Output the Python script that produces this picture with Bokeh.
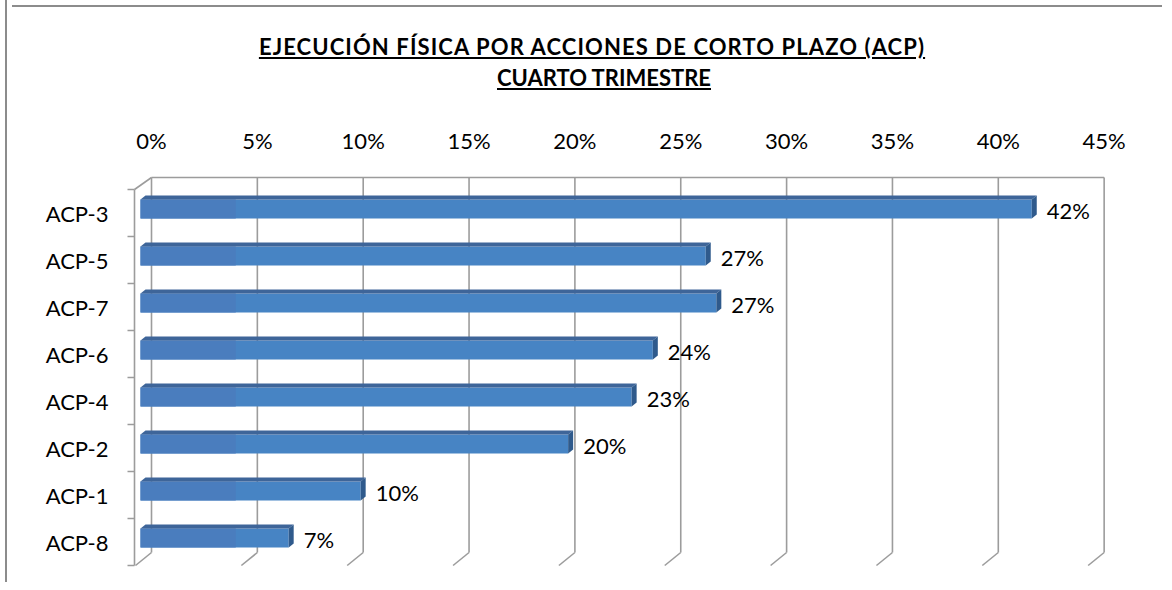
from bokeh.plotting import figure
from bokeh.models import (Range1d, LinearAxis, FixedTicker, PrintfTickFormatter, Div)
from bokeh.layouts import column
from bokeh.core.properties import value
from bokeh.embed import file_html
from bokeh.resources import INLINE

# ---------------- data ----------------
categories = ["ACP-3", "ACP-5", "ACP-7", "ACP-6", "ACP-4", "ACP-2", "ACP-1", "ACP-8"]
values = [42.1, 26.7, 27.2, 24.2, 23.2, 20.2, 10.4, 7.0]
value_labels = ["42%", "27%", "27%", "24%", "23%", "20%", "10%", "7%"]
pct_ticks = [0, 5, 10, 15, 20, 25, 30, 35, 40, 45]
title_line1 = "EJECUCIÓN FÍSICA POR ACCIONES DE CORTO PLAZO (ACP)"
title_line2 = "CUARTO TRIMESTRE"

# ---------------- layout / style constants ----------------
FONT = "Lato"
FS = "22px"
BLUE = "#4784c4"
BLUE_L = "#4a7dbe"
BLUE_TOP = "#3e6599"
BLUE_CAP = "#2f5a8c"
GRID = "#9c9c9c"
BORDER_CSS = "2px solid #8c8c8c"

TITLE_H = 90
W, H = 1150, 482
FIG_X, FIG_Y = 8, 8 + TITLE_H  # page position of the figure
FR_L, FR_T, FR_R, FR_B = 126, 170, 1112, 566   # frame in page coords
K = 105.85 / 5                 # px per percent
X0 = 141.0                     # page x of 0% on bar plane
Y0 = 206.5                     # page y of first bar centre
ROW = 47.0                     # px per category

def px_x(px):
    return (px - X0) / K

def px_y(py):
    return (py - Y0) / ROW

idx = list(range(len(categories)))

p = figure(width=W, height=H, output_backend="svg", toolbar_location=None,
           x_axis_type=None, y_axis_type=None,
           x_range=Range1d(px_x(FR_L), px_x(FR_R)),
           y_range=Range1d(px_y(FR_B), px_y(FR_T)),
           min_border_left=FR_L - FIG_X, min_border_right=FIG_X + W - FR_R,
           min_border_top=FR_T - FIG_Y, min_border_bottom=FIG_Y + H - FR_B)
p.outline_line_color = None
p.background_fill_color = "white"
p.border_fill_color = "white"

# back plane range for percent axis
p.extra_x_ranges = {"back": Range1d((FR_L - 152) / K, (FR_R - 152) / K)}
# front plane range for category labels
YF = 211.0
p.extra_y_ranges = {"front": Range1d((FR_B - YF) / ROW, (FR_T - YF) / ROW)}

top_axis = LinearAxis(x_range_name="back", ticker=FixedTicker(ticks=pct_ticks),
                      formatter=PrintfTickFormatter(format="%d%%"))
top_axis.axis_line_color = None
top_axis.major_tick_line_color = None
top_axis.minor_tick_line_color = None
top_axis.major_tick_out = 0
top_axis.major_tick_in = 0
top_axis.major_label_standoff = 19
top_axis.major_label_text_font = FONT
top_axis.major_label_text_font_size = FS
top_axis.major_label_text_color = "black"
p.add_layout(top_axis, "above")

left_axis = LinearAxis(y_range_name="front", ticker=FixedTicker(ticks=idx))
left_axis.major_label_overrides = {i: c for i, c in zip(idx, categories)}
left_axis.axis_line_color = None
left_axis.major_tick_line_color = None
left_axis.minor_tick_line_color = None
left_axis.major_tick_out = 0
left_axis.major_tick_in = 0
left_axis.major_label_standoff = 17
left_axis.major_label_text_font = FONT
left_axis.major_label_text_font_size = FS
left_axis.major_label_text_color = "black"
p.add_layout(left_axis, "left")

# ---------------- 3D walls / gridlines ----------------
bx = px_x(152)
gx0, gy0, gx1, gy1 = [], [], [], []
for t in pct_ticks:
    gx0 += [bx + t, bx + t]
    gy0 += [px_y(175), px_y(550)]
    gx1 += [bx + t, px_x(136) + t]
    gy1 += [px_y(550), px_y(563)]
# top edge of back wall
gx0.append(bx + pct_ticks[0]); gy0.append(px_y(175))
gx1.append(bx + pct_ticks[-1]); gy1.append(px_y(175))
# left wall front edge + top diagonal
gx0 += [px_x(135), px_x(135)]
gy0 += [px_y(187), px_y(187)]
gx1 += [px_x(135), px_x(152)]
gy1 += [px_y(563), px_y(175)]
# category tick marks
for k in range(len(categories) + 1):
    gx0.append(px_x(128)); gy0.append(px_y(187 + ROW * k))
    gx1.append(px_x(135)); gy1.append(px_y(187 + ROW * k))
p.segment(x0=gx0, y0=gy0, x1=gx1, y1=gy1, line_color=GRID, line_width=1.6)

# ---------------- bars ----------------
BH = 19 / ROW
DX = 5 / K
DY = 4 / ROW
p.hbar(y=idx, left=0, right=values, height=BH, fill_color=BLUE, line_color=None)
p.hbar(y=idx, left=0, right=[min(v, 4.5) for v in values], height=BH,
       fill_color=BLUE_L, line_color=None)

top_xs, top_ys, cap_xs, cap_ys = [], [], [], []
for i, v in zip(idx, values):
    yt = i - BH / 2
    yb = i + BH / 2
    top_xs.append([0, v, v + DX, DX])
    top_ys.append([yt, yt, yt - DY, yt - DY])
    cap_xs.append([v, v + DX, v + DX, v])
    cap_ys.append([yt, yt - DY, yb - DY, yb])
p.patches(top_xs, top_ys, fill_color=BLUE_TOP, line_color=None)
p.patches(cap_xs, cap_ys, fill_color=BLUE_CAP, line_color=None)

# value labels
p.text(x=values, y=idx, text=value_labels, x_offset=15, y_offset=1,
       text_align="left", text_baseline="middle",
       text_font=value(FONT), text_font_size=value(FS), text_color="black")

title = Div(text=(
    f'<div style="display:block;width:{W}px;height:{TITLE_H - 2}px;border-top:{BORDER_CSS};">'
    f'<div style="display:block;width:{W - 30}px;margin:0 0 0 20px;padding-top:24px;'
    f'text-align:center;font-family:{FONT};font-weight:bold;font-size:22px;'
    f'line-height:31px;color:black;">'
    f'<u style="letter-spacing:1.1px;">{title_line1}</u><br>'
    f'<u style="margin-left:24px;">{title_line2}</u></div></div>'),
    width=W, height=TITLE_H)

layout = column(title, p, styles={"border-left": BORDER_CSS,
                                  "margin-left": "5px",
                                  "background-color": "white"})

open("out.html", "w").write(file_html(layout, INLINE))
